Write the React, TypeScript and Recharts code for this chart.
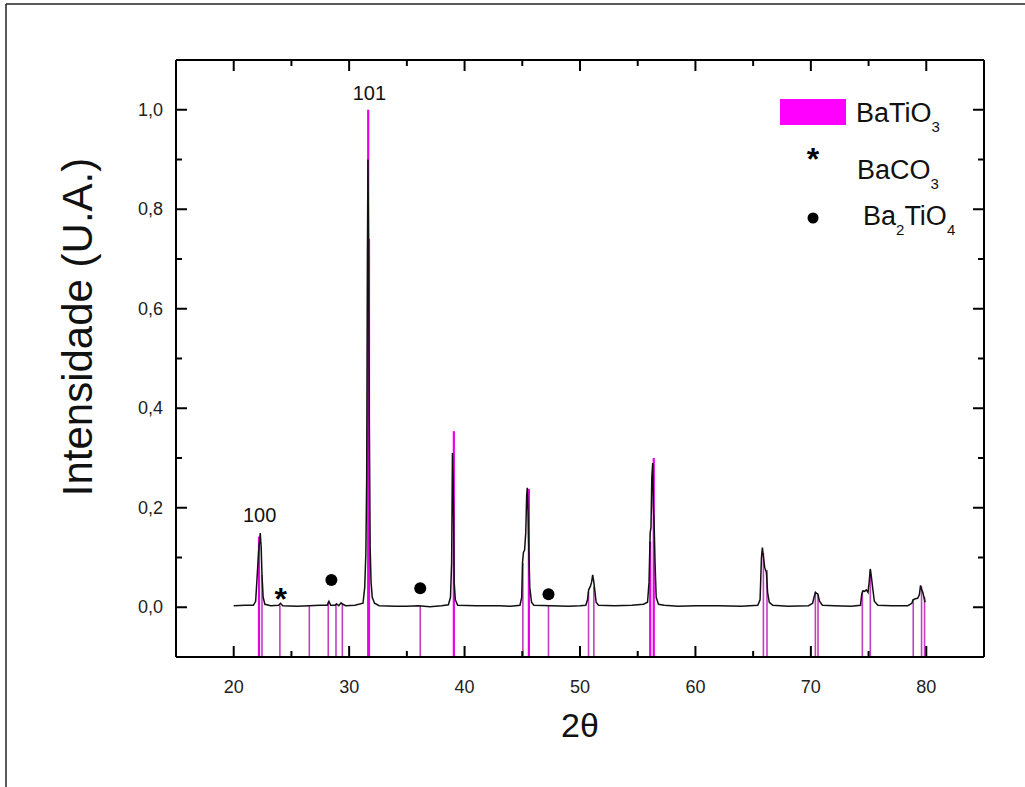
import React from "react";
import { ComposedChart, Line, Scatter, XAxis, YAxis, ReferenceLine } from "recharts";

const FONT = "Arial, 'Liberation Sans', Helvetica, sans-serif";
const MAGENTA = "#ff00ff";

// 2θ axis
const xTicks = [20, 25, 30, 35, 40, 45, 50, 55, 60, 65, 70, 75, 80];
const yTicks = [0, 0.1, 0.2, 0.3, 0.4, 0.5, 0.6, 0.7, 0.8, 0.9, 1.0];

// measured diffractogram [2θ, normalised intensity]
const pattern: [number, number][] = [
  [20.0, 0.003], [21.0, 0.004], [21.7, 0.004], [21.9, 0.012], [22.05, 0.07], [22.15, 0.11],
  [22.25, 0.135], [22.3, 0.149], [22.38, 0.12], [22.45, 0.065], [22.55, 0.02], [22.7, 0.006],
  [23.2, 0.003], [23.9, 0.004], [24.05, 0.008], [24.25, 0.003], [25.5, 0.002], [26.5, 0.003],
  [27.5, 0.004], [28.1, 0.004], [28.25, 0.012], [28.4, 0.004], [28.8, 0.004], [28.9, 0.007],
  [29.1, 0.003], [29.3, 0.009], [29.45, 0.006], [29.7, 0.003], [30.5, 0.004], [31.2, 0.008],
  [31.35, 0.04], [31.45, 0.11], [31.52, 0.26], [31.58, 0.69], [31.63, 0.9], [31.68, 0.74],
  [31.74, 0.39], [31.82, 0.12], [31.9, 0.05], [32.0, 0.02], [32.2, 0.008], [32.6, 0.003],
  [34.0, 0.002], [35.0, 0.002], [36.0, 0.003], [37.0, 0.001], [38.0, 0.003], [38.6, 0.005],
  [38.78, 0.02], [38.88, 0.09], [38.95, 0.31], [39.0, 0.26], [39.05, 0.18], [39.1, 0.05],
  [39.2, 0.015], [39.4, 0.004], [41.0, 0.003], [43.0, 0.003], [44.0, 0.002], [44.8, 0.004],
  [44.95, 0.02], [45.02, 0.09], [45.1, 0.11], [45.2, 0.115], [45.3, 0.15], [45.38, 0.225],
  [45.43, 0.24], [45.5, 0.19], [45.55, 0.13], [45.65, 0.04], [45.8, 0.01], [46.0, 0.004],
  [47.5, 0.003], [49.0, 0.002], [50.0, 0.003], [50.5, 0.004], [50.65, 0.015], [50.75, 0.035],
  [50.9, 0.042], [51.0, 0.05], [51.1, 0.065], [51.2, 0.05], [51.3, 0.03], [51.4, 0.01],
  [51.6, 0.004], [53.0, 0.003], [54.5, 0.004], [55.5, 0.006], [55.85, 0.01], [55.98, 0.05],
  [56.08, 0.15], [56.15, 0.16], [56.22, 0.26], [56.3, 0.29], [56.36, 0.2], [56.42, 0.17],
  [56.5, 0.09], [56.6, 0.02], [56.8, 0.006], [57.3, 0.004], [58.5, 0.002], [60.0, 0.003],
  [62.0, 0.003], [64.0, 0.002], [65.4, 0.004], [65.6, 0.015], [65.72, 0.1], [65.8, 0.12],
  [65.9, 0.1], [66.0, 0.08], [66.15, 0.07], [66.25, 0.03], [66.4, 0.01], [66.7, 0.004],
  [68.0, 0.002], [69.8, 0.003], [70.15, 0.008], [70.3, 0.022], [70.4, 0.03], [70.5, 0.028],
  [70.6, 0.027], [70.75, 0.012], [71.0, 0.004], [72.0, 0.003], [73.5, 0.002], [74.3, 0.004],
  [74.4, 0.025], [74.5, 0.033], [74.65, 0.032], [74.8, 0.035], [74.95, 0.03], [75.05, 0.05],
  [75.15, 0.077], [75.25, 0.06], [75.35, 0.04], [75.5, 0.012], [75.8, 0.004], [77.0, 0.003],
  [78.4, 0.003], [78.75, 0.008], [78.85, 0.015], [79.05, 0.017], [79.25, 0.018], [79.4, 0.025],
  [79.5, 0.044], [79.6, 0.035], [79.7, 0.03], [79.8, 0.02], [79.9, 0.01],
];

// BaTiO3 reference card sticks [2θ, relative intensity]
const batio3Sticks: [number, number][] = [
  [22.19, 0.142], [22.45, 0.065], [24.0, 0.004], [26.55, 0.004], [28.19, 0.011],
  [28.86, 0.006], [29.41, 0.008], [31.65, 1.0], [31.72, 0.74], [36.16, 0.003],
  [39.07, 0.354], [45.05, 0.089], [45.57, 0.238], [47.27, 0.004], [50.74, 0.031],
  [51.2, 0.041], [56.08, 0.132], [56.39, 0.3], [65.89, 0.109], [66.2, 0.075],
  [70.39, 0.031], [70.62, 0.025], [74.46, 0.031], [75.15, 0.075], [78.87, 0.015],
  [79.59, 0.042], [79.85, 0.021],
];

// secondary phase markers
const baco3Marks = [{ x: 24.07, y: 0.031 }];
const ba2tio4Marks = [
  { x: 28.46, y: 0.055 },
  { x: 36.16, y: 0.038 },
  { x: 47.27, y: 0.026 },
];
const peakLabels = [
  { x: 22.25, y: 0.186, hkl: "100" },
  { x: 31.75, y: 1.033, hkl: "101" },
];

const patternData = pattern.map(([x, y]) => ({ x, y }));

const isMajorX = (v: number) => v % 10 === 0;
const isMajorY = (v: number) => Math.round(v * 10) % 2 === 0;
const fmtY = (v: number) => v.toFixed(1).replace(".", ",");

const BottomTick = (p: any) => {
  const v = p.payload.value;
  const major = isMajorX(v);
  return (
    <g>
      <line x1={p.x} x2={p.x} y1={p.y} y2={p.y - (major ? 11 : 6)} stroke="#000" strokeWidth={2} />
      {major && (
        <text x={p.x} y={p.y + 36} textAnchor="middle" fontSize={18} fontFamily={FONT} fill="#222">
          {v}
        </text>
      )}
    </g>
  );
};

const TopTick = (p: any) => {
  const major = isMajorX(p.payload.value);
  return <line x1={p.x} x2={p.x} y1={p.y} y2={p.y + (major ? 11 : 6)} stroke="#000" strokeWidth={2} />;
};

const LeftTick = (p: any) => {
  const v = p.payload.value;
  const major = isMajorY(v);
  return (
    <g>
      <line x1={p.x} x2={p.x + (major ? 11 : 6)} y1={p.y} y2={p.y} stroke="#000" strokeWidth={2} />
      {major && (
        <text x={p.x - 13} y={p.y + 6} textAnchor="end" fontSize={18} fontFamily={FONT} fill="#222">
          {fmtY(v)}
        </text>
      )}
    </g>
  );
};

const RightTick = (p: any) => {
  const major = isMajorY(p.payload.value);
  return <line x1={p.x} x2={p.x - (major ? 11 : 6)} y1={p.y} y2={p.y} stroke="#000" strokeWidth={2} />;
};

const StarShape = (p: any) => (
  <text x={p.cx} y={p.cy + 18} textAnchor="middle" fontSize={32} fontWeight="bold" fontFamily={FONT} fill="#000">
    *
  </text>
);

const DotShape = (p: any) => <circle cx={p.cx} cy={p.cy} r={6} fill="#000" />;

const HklShape = (p: any) => (
  <text x={p.cx} y={p.cy + 7} textAnchor="middle" fontSize={20} fontFamily={FONT} fill="#111">
    {p.payload.hkl}
  </text>
);

const axisLine = { stroke: "#000", strokeWidth: 2 };

export default function App() {
  return (
    <div style={{ position: "absolute", left: 0, top: 0, width: 1025, height: 787, background: "#fff" }}>
      <ComposedChart
        width={1025}
        height={787}
        margin={{ top: 50, right: 31, bottom: 90, left: 106 }}
      >
        <XAxis
          type="number"
          dataKey="x"
          domain={[15, 85]}
          ticks={xTicks}
          tick={BottomTick}
          tickLine={false}
          tickSize={0}
          tickMargin={0}
          height={40}
          axisLine={axisLine}
          allowDataOverflow
        />
        <XAxis
          xAxisId="top"
          orientation="top"
          type="number"
          dataKey="x"
          domain={[15, 85]}
          ticks={xTicks}
          tick={TopTick}
          tickLine={false}
          tickSize={0}
          tickMargin={0}
          height={10}
          axisLine={axisLine}
          allowDataOverflow
        />
        <YAxis
          type="number"
          domain={[-0.1, 1.1]}
          ticks={yTicks}
          tick={LeftTick}
          tickLine={false}
          tickSize={0}
          tickMargin={0}
          width={70}
          axisLine={axisLine}
          allowDataOverflow
        />
        <YAxis
          yAxisId="right"
          orientation="right"
          type="number"
          domain={[-0.1, 1.1]}
          ticks={yTicks}
          tick={RightTick}
          tickLine={false}
          tickSize={0}
          tickMargin={0}
          width={10}
          axisLine={axisLine}
          allowDataOverflow
        />
        {batio3Sticks.map(([x, h]) => (
          <ReferenceLine
            key={x}
            segment={[{ x, y: -0.1 }, { x, y: h }]}
            stroke={h > 0.12 ? "#e800e8" : "#c23ec2"}
            strokeWidth={h > 0.12 ? 2.2 : 1.6}
          />
        ))}
        <Line
          data={patternData}
          dataKey="y"
          type="linear"
          stroke="#111"
          strokeWidth={1.5}
          dot={false}
          activeDot={false}
          isAnimationActive={false}
        />
        <Scatter data={baco3Marks} dataKey="y" shape={StarShape} isAnimationActive={false} />
        <Scatter data={ba2tio4Marks} dataKey="y" shape={DotShape} isAnimationActive={false} />
        <Scatter data={peakLabels} dataKey="y" shape={HklShape} isAnimationActive={false} />
      </ComposedChart>

      <svg
        width={1025}
        height={787}
        style={{ position: "absolute", left: 0, top: 0, pointerEvents: "none" }}
        fontFamily={FONT}
      >
        {/* outer frame */}
        <line x1={6} y1={4} x2={1025} y2={4} stroke="#222" strokeWidth={1.5} />
        <line x1={6} y1={4} x2={6} y2={787} stroke="#222" strokeWidth={1.5} />

        {/* axis titles */}
        <text x={580} y={737} textAnchor="middle" fontSize={34} fill="#111">
          2θ
        </text>
        <text
          x={92}
          y={327}
          textAnchor="middle"
          fontSize={42}
          fill="#111"
          transform="rotate(-90, 92, 327)"
        >
          Intensidade (U.A.)
        </text>

        {/* legend */}
        <rect x={780} y={99} width={66} height={26} fill={MAGENTA} />
        <text x={856} y={122} fontSize={27} fill="#111">
          BaTiO<tspan dy={10} fontSize={15}>3</tspan>
        </text>
        <text x={813} y={170} textAnchor="middle" fontSize={32} fontWeight="bold" fill="#000">
          *
        </text>
        <text x={857} y={179} fontSize={27} fill="#111">
          BaCO<tspan dy={10} fontSize={15}>3</tspan>
        </text>
        <circle cx={813} cy={218} r={5.5} fill="#000" />
        <text x={863} y={225} fontSize={27} fill="#111">
          Ba<tspan dy={10} fontSize={15}>2</tspan>
          <tspan dy={-10}>TiO</tspan>
          <tspan dy={10} fontSize={15}>4</tspan>
        </text>
      </svg>
    </div>
  );
}
